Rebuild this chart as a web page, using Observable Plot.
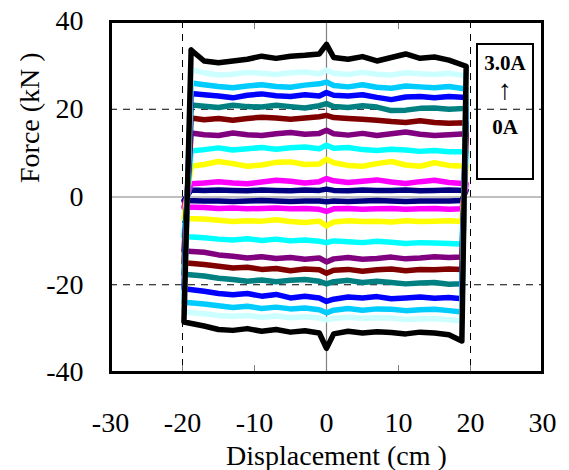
<!DOCTYPE html>
<html>
<head>
<meta charset="utf-8">
<script src="https://cdn.jsdelivr.net/npm/d3@7"></script>
<script src="https://cdn.jsdelivr.net/npm/@observablehq/plot@0.6"></script>
<style>
  html, body { margin: 0; padding: 0; background: #fff; }
  #wrap { position: relative; width: 569px; height: 470px; }
  #chart svg text { font-family: "Liberation Serif", "Times New Roman", serif; }
  #legend {
    position: absolute; left: 476px; top: 43px; width: 54px; height: 133px;
    border: 2px solid #000; font-family: "Liberation Serif", "Times New Roman", serif;
    font-weight: bold; font-size: 21px; text-align: center; color: #000;
  }
  #legend div { position: absolute; left: 0; right: 0; line-height: 1; }
</style>
</head>
<body>
<div id="wrap">
  <div id="chart"></div>
  <div id="legend">
    <div style="top:8px">3.0A</div>
    <div style="top:31px;font-size:28px;font-weight:normal">↑</div>
    <div style="top:72px">0A</div>
  </div>
</div>
<script>
// Excitation currents (0A → 3.0A) and their colours
const currents = ["0A", "0.3A", "0.6A", "0.9A", "1.2A", "1.5A", "1.8A", "2.1A", "2.4A", "2.7A", "3.0A"];
const colors = ["#000080", "#ff00ff", "#ffff00", "#00ffff", "#800080", "#800000", "#008080", "#0000ff", "#00ccff", "#ccffff", "#000000"];

// Displacement sample positions (cm): upper branch (moving right), lower branch (moving left)
const xTop = [-18.8, -17, -15, -13, -11, -9, -7, -5, -3, -1, 0, 1, 3, 5, 7, 9, 11, 13, 15, 17, 19.4];
const xBottom = [-19.8, -17, -15, -13, -11, -9, -7, -5, -3, -1, 0, 1, 3, 5, 7, 9, 11, 13, 15, 17, 18.8];

// Force (kN) on the upper branch, per current
const top0A  = [1.6, 1.5, 1.6, 1.5, 1.4, 1.6, 1.5, 1.4, 1.6, 1.5, 1.8, 1.5, 1.4, 1.6, 1.5, 1.5, 1.6, 1.4, 1.5, 1.6, 1.5];
const top03A = [3.0, 3.2, 3.5, 3.2, 3.0, 3.4, 3.8, 3.6, 3.2, 3.5, 4.2, 3.7, 3.3, 3.6, 3.9, 3.4, 3.1, 3.5, 3.8, 3.3, 3.0];
const top06A = [7.0, 7.4, 8.1, 7.6, 7.0, 7.3, 7.9, 8.0, 7.4, 7.5, 8.6, 7.8, 7.2, 7.0, 7.6, 8.1, 7.3, 7.0, 7.8, 7.2, 7.0];
const top09A = [10.5, 10.8, 11.2, 10.7, 11.0, 11.3, 10.9, 11.2, 11.4, 11.0, 11.8, 11.1, 11.3, 10.8, 10.6, 10.9, 10.7, 10.4, 10.6, 10.3, 10.3];
const top12A = [14.6, 14.2, 14.0, 14.6, 14.2, 14.0, 14.4, 14.7, 14.3, 14.5, 15.2, 14.4, 14.1, 14.5, 14.0, 14.4, 14.8, 14.3, 14.0, 14.2, 14.4];
const top15A = [18.0, 17.6, 17.9, 17.5, 17.9, 18.2, 18.0, 17.7, 18.0, 18.3, 18.6, 18.1, 17.9, 17.7, 17.5, 17.2, 17.0, 17.4, 17.0, 16.8, 16.9];
const top18A = [21.0, 20.7, 20.4, 20.9, 20.6, 20.5, 20.9, 20.6, 20.3, 20.8, 21.3, 20.6, 20.4, 20.8, 20.5, 19.7, 19.8, 20.2, 20.3, 20.0, 20.2];
const top21A = [23.6, 23.3, 23.0, 22.6, 23.2, 23.5, 23.1, 22.9, 23.3, 23.0, 23.8, 23.2, 23.0, 23.3, 22.7, 22.2, 22.8, 22.9, 22.6, 22.9, 22.7];
const top24A = [26.0, 25.6, 25.2, 24.9, 25.3, 25.6, 25.2, 25.0, 25.5, 25.8, 26.2, 25.4, 25.1, 25.6, 25.0, 24.8, 25.3, 25.1, 24.9, 25.2, 24.6];
const top27A = [29.0, 28.3, 27.8, 28.0, 28.4, 28.2, 27.9, 28.3, 28.5, 28.1, 28.9, 28.2, 27.9, 28.4, 28.0, 27.8, 28.3, 28.1, 27.9, 28.2, 27.6];
const top30A = [33.5, 31.0, 30.6, 31.0, 31.4, 32.1, 31.6, 32.1, 32.3, 32.6, 34.8, 31.8, 31.4, 32.0, 31.0, 31.8, 32.6, 31.6, 31.9, 31.2, 29.8];

// Force (kN) on the lower branch, per current
const bot0A  = [-0.8, -0.9, -0.9, -1.0, -0.9, -0.8, -0.9, -1.0, -0.9, -0.9, -1.1, -0.9, -1.0, -0.9, -0.8, -0.9, -1.0, -0.9, -0.9, -0.9, -0.8];
const bot03A = [-2.3, -2.4, -2.6, -2.5, -2.7, -2.6, -2.5, -2.7, -2.6, -2.8, -3.3, -2.7, -2.6, -2.8, -2.7, -2.6, -2.8, -2.7, -2.6, -2.8, -2.7];
const bot06A = [-4.9, -5.0, -5.3, -5.6, -5.4, -5.5, -5.2, -5.6, -5.8, -5.5, -6.6, -5.7, -5.4, -5.6, -5.5, -5.7, -5.4, -5.6, -5.5, -5.4, -5.6];
const bot09A = [-9.0, -9.3, -9.6, -9.8, -9.5, -9.9, -9.6, -10.0, -9.8, -10.1, -10.4, -10.0, -10.2, -10.4, -10.1, -10.3, -10.6, -10.4, -10.5, -10.6, -10.7];
const bot12A = [-12.3, -12.6, -13.2, -13.5, -13.9, -13.6, -14.0, -13.8, -14.2, -13.9, -14.8, -14.1, -13.8, -14.2, -14.0, -13.7, -14.1, -13.9, -13.6, -13.8, -13.7];
const bot15A = [-15.0, -15.4, -15.8, -16.2, -16.0, -16.5, -16.3, -16.8, -16.4, -16.6, -17.4, -16.7, -16.5, -16.9, -16.6, -16.4, -16.8, -16.5, -16.6, -16.4, -16.5];
const bot18A = [-17.6, -18.0, -18.5, -18.8, -19.2, -18.9, -19.3, -19.0, -18.8, -19.2, -19.8, -19.3, -19.0, -19.5, -19.2, -19.5, -19.8, -19.6, -19.5, -19.9, -19.8];
const bot21A = [-20.9, -21.5, -22.0, -22.3, -22.0, -22.6, -22.2, -23.0, -22.6, -23.0, -23.8, -23.3, -22.8, -23.0, -22.7, -23.2, -23.0, -22.8, -23.1, -22.9, -23.2];
const bot24A = [-24.0, -24.4, -24.8, -25.2, -24.9, -25.4, -25.1, -25.5, -25.3, -25.7, -26.4, -25.8, -25.4, -25.8, -25.5, -25.6, -25.9, -25.7, -25.6, -25.9, -26.2];
const bot27A = [-26.2, -26.6, -27.0, -27.2, -27.0, -27.4, -27.1, -27.5, -27.3, -27.6, -28.0, -27.7, -27.4, -27.7, -27.5, -27.6, -27.9, -27.8, -27.7, -28.0, -28.2];
const bot30A = [-28.5, -29.4, -30.2, -30.4, -30.0, -30.6, -30.2, -30.8, -30.5, -31.0, -34.5, -31.2, -30.6, -31.0, -30.7, -30.9, -31.2, -30.8, -31.0, -31.4, -32.8];

const xTicks = [-30, -20, -10, 0, 10, 20, 30];
const yTicks = [-40, -20, 0, 20, 40];
const xGrid = [-20, 20];
const yGrid = [-20, 20];

const tops = [top0A, top03A, top06A, top09A, top12A, top15A, top18A, top21A, top24A, top27A, top30A];
const bots = [bot0A, bot03A, bot06A, bot09A, bot12A, bot15A, bot18A, bot21A, bot24A, bot27A, bot30A];

// Build closed loops: upper branch left→right, lower branch right→left, back to start
const rows = [];
currents.forEach((c, i) => {
  xTop.forEach((x, j) => rows.push({current: c, d: x, f: tops[i][j]}));
  for (let j = xBottom.length - 1; j >= 0; j--) rows.push({current: c, d: xBottom[j], f: bots[i][j]});
  rows.push({current: c, d: xTop[0], f: tops[i][0]});
});

const font = "'Liberation Serif', 'Times New Roman', serif";

const chart = Plot.plot({
  width: 569,
  height: 470,
  marginTop: 21,
  marginBottom: 98,
  marginLeft: 110,
  marginRight: 27,
  style: {fontFamily: font, fontSize: "28px", background: "white", color: "black"},
  x: {domain: [-30, 30]},
  y: {domain: [-40, 40]},
  color: {domain: currents, range: colors},
  marks: [
    Plot.ruleX(xGrid, {stroke: "black", strokeDasharray: "7,6", strokeWidth: 1}),
    Plot.ruleY(yGrid, {stroke: "black", strokeDasharray: "7,6", strokeWidth: 1}),
    Plot.ruleX([0], {stroke: "#808080", strokeWidth: 1.2}),
    Plot.ruleY([0], {stroke: "#808080", strokeWidth: 1.2}),
    Plot.axisX({anchor: "bottom", ticks: [-20, -10, 0, 10, 20], tickSize: 7, dy: -7, text: null, label: null, stroke: "#808080"}),
    Plot.axisX({anchor: "top", ticks: [-10, 10], tickSize: 7, dy: 7, text: null, label: null, stroke: "#808080"}),
    Plot.line(rows, {x: "d", y: "f", z: "current", stroke: "current", strokeWidth: 5.5, strokeLinejoin: "round", curve: "linear"}),
    Plot.axisX({anchor: "bottom", ticks: xTicks, tickSize: 0, tickPadding: 40, label: null, fontSize: 28, fontFamily: font, tickFormat: d => String(d)}),
    Plot.axisY({anchor: "left", ticks: yTicks, tickSize: 0, tickPadding: 27, label: null, fontSize: 28, fontFamily: font, tickFormat: d => String(d)}),
    Plot.text(["Displacement (cm )"], {frameAnchor: "bottom", lineAnchor: "bottom", dx: 10, dy: 92, fontSize: 28, fontFamily: font, fill: "black"}),
    Plot.text(["Force (kN )"], {frameAnchor: "left", rotate: -90, dx: -80, dy: -14, fontSize: 28, fontFamily: font, fill: "black"}),
    Plot.frame({stroke: "black", strokeWidth: 3})
  ]
});
document.getElementById("chart").appendChild(chart);
</script>
</body>
</html>
